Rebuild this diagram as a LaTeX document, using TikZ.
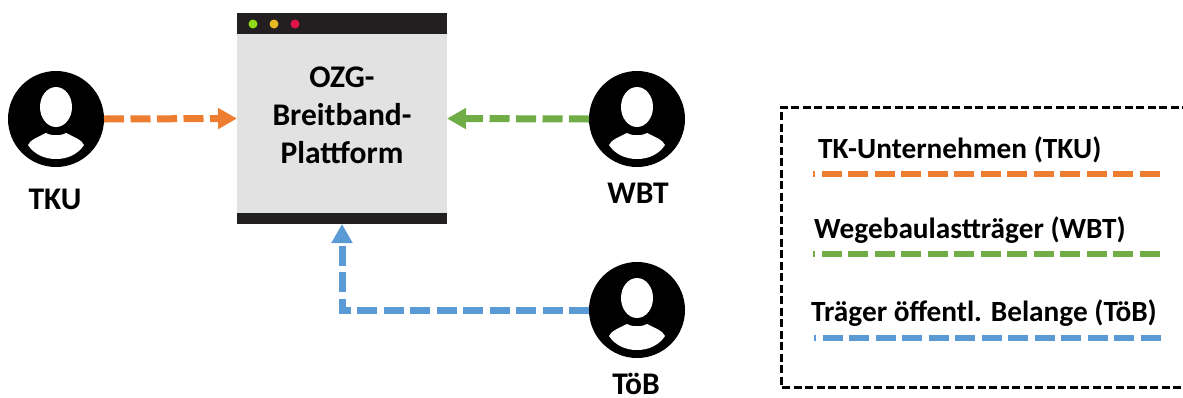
\documentclass[tikz,border=0pt]{standalone}
\usepackage{fontspec}
\setmainfont{Carlito}
\usetikzlibrary{arrows.meta,calc}
\definecolor{tkuc}{HTML}{ED7D31}
\definecolor{wbtc}{HTML}{70AD47}
\definecolor{tobc}{HTML}{5B9BD5}
\definecolor{barc}{HTML}{231F20}
\definecolor{winc}{HTML}{E2E2E2}
\definecolor{dotg}{HTML}{8FDC14}
\definecolor{doty}{HTML}{E8B923}
\definecolor{dotr}{HTML}{E0144C}
\tikzset{
  person/.style={circle,fill=black,minimum size=96pt,inner sep=0pt,outer sep=0pt},
  label text/.style={font=\bfseries\fontsize{31.5}{31.5}\selectfont,text=black,inner sep=0pt,anchor=base},
  legend text/.style={font=\bfseries\fontsize{29.3}{29.3}\selectfont,text=black,inner sep=0pt,anchor=base west},
  flow/.style={line width=7pt,dash pattern=on 20pt off 6.5pt,-{Triangle[length=19pt,width=20pt]}},
  legendline/.style={line width=6.3pt,dash pattern=on 20pt off 6.5pt,dash phase=18pt},
  dot/.style={circle,minimum size=9pt,inner sep=0pt},
  bar/.style={fill=barc,draw=none,inner sep=0pt,outer sep=0pt,minimum width=210pt},
}
\newcommand{\personglyph}[1]{%
  \begin{scope}[shift={(#1)}]
  \fill[white] (0,-12) ellipse [x radius=16,y radius=20];
  \fill[white] (-28,26)
    .. controls (-26,21) and (-18,18) .. (-10,14)
    .. controls (-5,17) and (5,17) .. (10,14)
    .. controls (18,18) and (26,21) .. (28,26)
    .. controls (22,35) and (12,40) .. (0,40)
    .. controls (-12,40) and (-22,35) .. cycle;
  \end{scope}
}
\begin{document}
\begin{tikzpicture}[x=1pt,y=-1pt]
\useasboundingbox[clip] (0,0) rectangle (1183,397);
% platform window
\node[fill=winc,minimum width=210pt,minimum height=211pt,inner sep=0pt,outer sep=0pt] (win) at (342,118.5) {};
\node[bar,minimum height=21pt] (topbar) at (342,23.5) {};
\node[bar,minimum height=11pt] (botbar) at (342,218.5) {};
\node[dot,fill=dotg] (d1) at (253,24) {};
\node[dot,fill=doty] (d2) at (274,24) {};
\node[dot,fill=dotr] (d3) at (295,24) {};
\node[label text] (t1) at (342,87) {OZG-};
\node[label text] (t2) at (342,125) {Breitband-};
\node[label text] (t3) at (342,163) {Plattform};
% persons
\node[person] (tku) at (56,119) {};
\node[person] (wbt) at (637,119) {};
\node[person] (tob) at (637,310) {};
\personglyph{tku}
\personglyph{wbt}
\personglyph{tob}
\node[label text] (ltku) at (55,209) {TKU};
\node[label text] (lwbt) at (638,203) {WBT};
\node[label text] (ltob) at (636,394) {TöB};
% connectors
\coordinate (corner) at (342,310);
\draw[flow,tkuc] (tku.east) -- (win.west);
\draw[flow,wbtc] (wbt.west) -- (win.east);
\draw[flow,tobc] (tob.west) -- (corner) -- (botbar.south);
% legend
\coordinate (b1) at (1190,107);
\coordinate (b2) at (781,107);
\coordinate (b3) at (781,387);
\coordinate (b4) at (1190,387);
\draw[black,line width=3pt,dash pattern=on 8pt off 3.5pt] (b1) -- (b2) -- (b3) -- (b4);
\node[legend text] (e1) at (818,158) {TK-Unternehmen (TKU)};
\node[legend text] (e2) at (814,238) {Wegebaulastträger (WBT)};
\node[legend text] (e3) at (811,321) {Träger öffentl. Belange (TöB)};
\coordinate (a1) at (813,174); \coordinate (a2) at (1160,174);
\coordinate (c1) at (813,254); \coordinate (c2) at (1160,254);
\coordinate (f1) at (814,338); \coordinate (f2) at (1161,338);
\draw[legendline,tkuc] (a1) -- (a2);
\draw[legendline,wbtc] (c1) -- (c2);
\draw[legendline,tobc] (f1) -- (f2);
\end{tikzpicture}
\end{document}
